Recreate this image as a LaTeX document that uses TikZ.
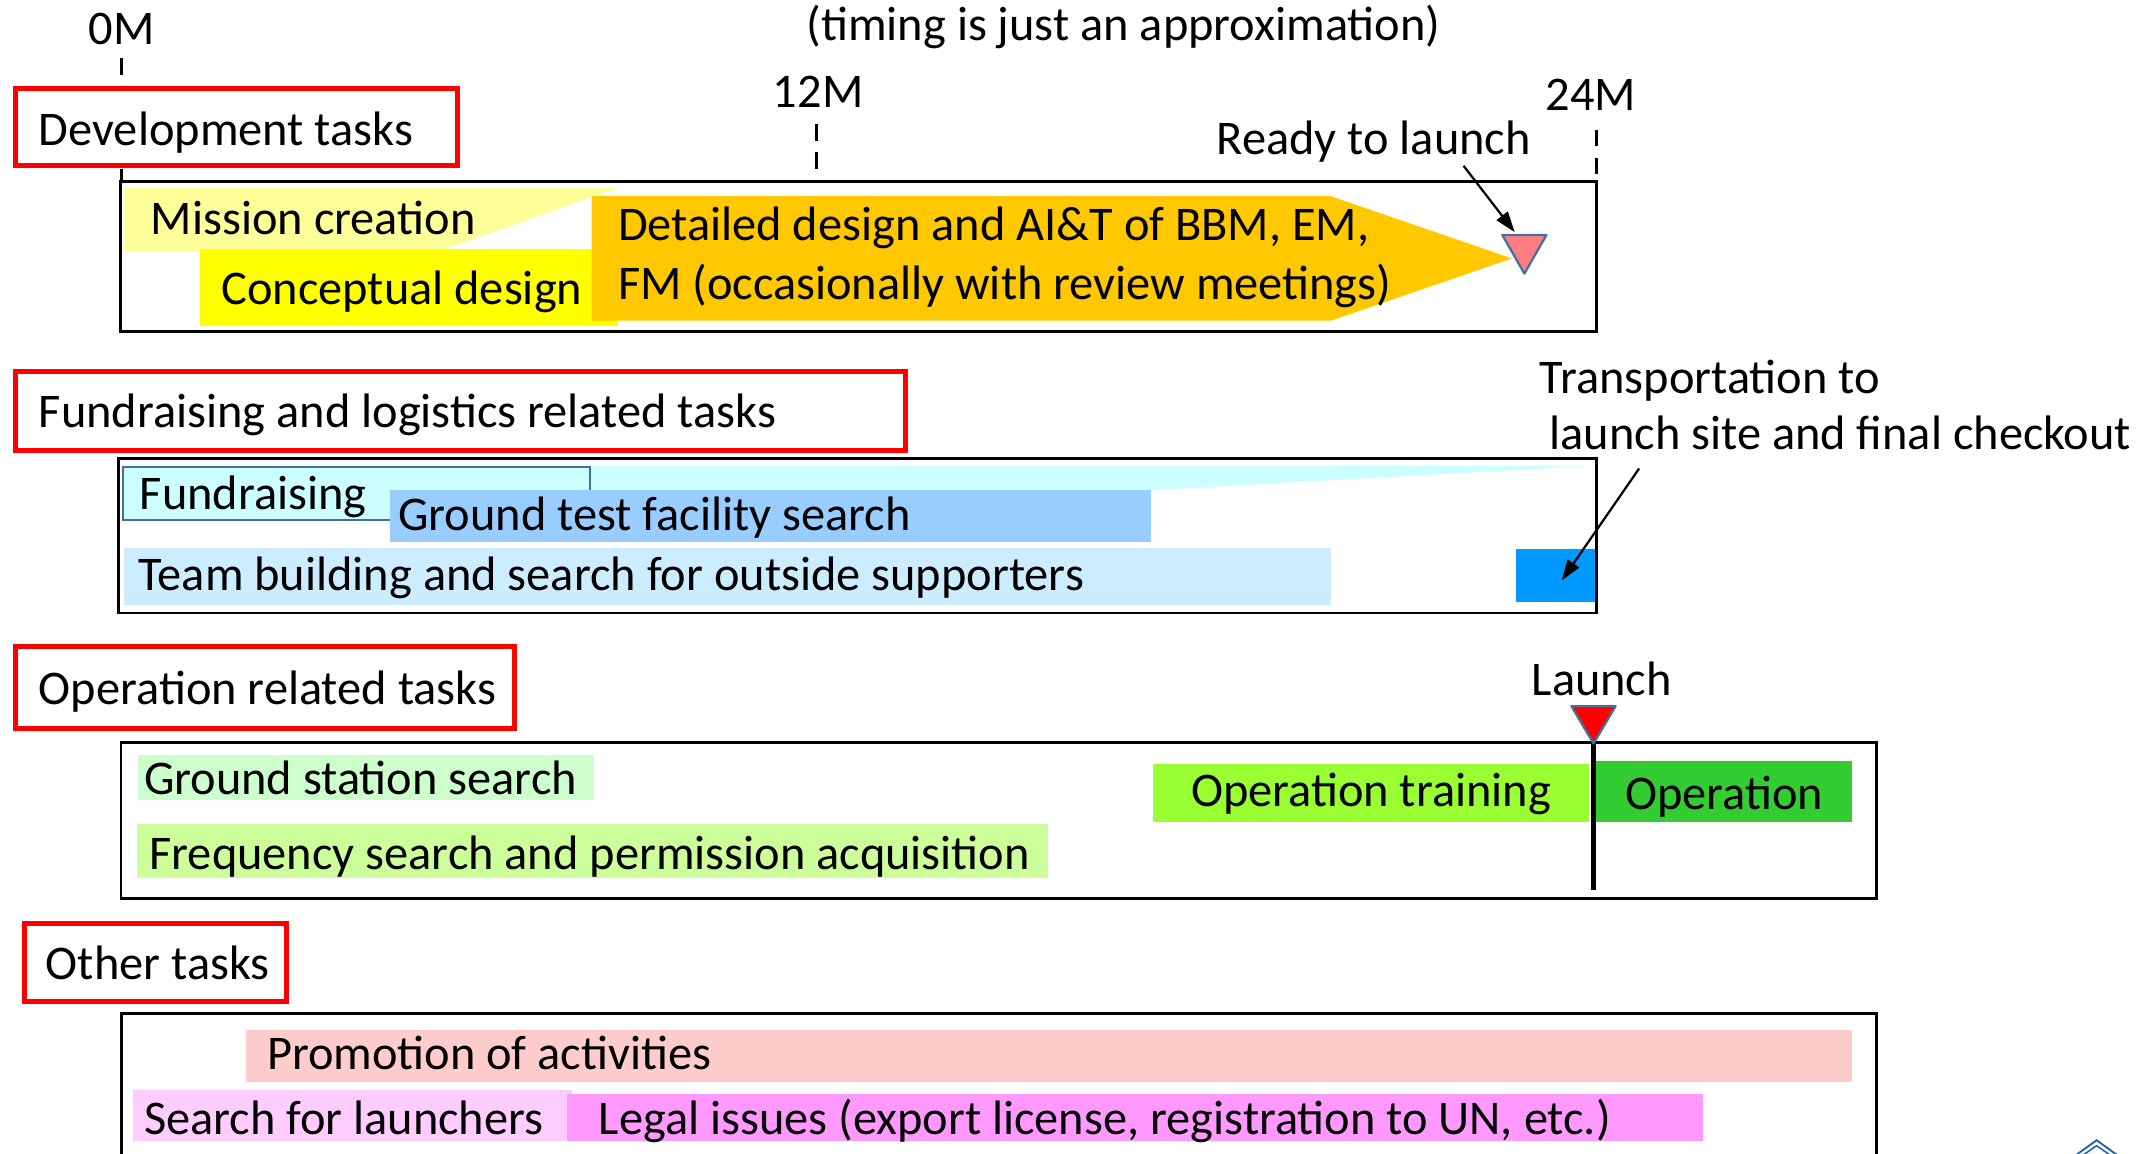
\documentclass[tikz,border=0pt]{standalone}
\usepackage{fontspec}
\setmainfont{Carlito}
\usetikzlibrary{arrows.meta}
\definecolor{mcyellow}{HTML}{FFFF99}
\definecolor{cdyellow}{HTML}{FFFF00}
\definecolor{ddorange}{HTML}{FFC800}
\definecolor{trired}{HTML}{FF7C80}
\definecolor{edgeblue}{HTML}{41719C}
\definecolor{fundcyan}{HTML}{CCFFFF}
\definecolor{gtfblue}{HTML}{99CCFF}
\definecolor{teamblue}{HTML}{CCECFF}
\definecolor{transblue}{HTML}{0099FF}
\definecolor{gsgreen}{HTML}{CCFFCC}
\definecolor{freqgreen}{HTML}{CCFF99}
\definecolor{traingreen}{HTML}{99FF33}
\definecolor{opgreen}{HTML}{33CC33}
\definecolor{promopink}{HTML}{FFCCCC}
\definecolor{searchpink}{HTML}{FFCCFF}
\definecolor{legalpink}{HTML}{FF99FF}
\definecolor{logoblue}{HTML}{1F5FAA}
\begin{document}
\begin{tikzpicture}[x=1pt,y=-1pt,
  txt/.style={inner sep=0pt, font=\fontsize{35}{42}\selectfont},
  redlabel/.style={draw=red, line width=3.6pt, fill=white},
  panel/.style={draw=black, line width=2pt},
  ticksty/.style={line width=2pt, dash pattern=on 12pt off 8pt},
  arr/.style={line width=1.6pt, -{Triangle[length=15pt,width=10pt]}},
  marker/.style={draw=edgeblue, line width=1.6pt, line join=round}
]
\useasboundingbox (0,0) rectangle (1560,834.3);
\clip (0,0) rectangle (1560,834.3);

% time ticks
\draw[ticksty] (88,42) -- (88,131.5);
\draw[ticksty] (591,90) -- (591,122);
\draw[ticksty] (1155,94) -- (1155,126);
\node[txt, anchor=base] (m0) at (88,32) {0M};
\node[txt, anchor=base] (m12) at (592,78) {12M};
\node[txt, anchor=base] (m24) at (1151,80) {24M};
\node[txt, anchor=base] (timing) at (813,29) {(timing is just an approximation)};

% ---------------- Development ----------------
\draw[redlabel] (11,64) rectangle (331,120);
\node[txt, anchor=base west] (devl) at (28,105) {Development tasks};
\draw[panel] (87,131.5) rectangle (1155,240);
\fill[mcyellow] (90,136) -- (447,136) -- (317,182) -- (90,182) -- cycle;
\fill[cdyellow] (145,180) rectangle (447,236);
\fill[ddorange] (428,142) -- (963,142) -- (1094,187) -- (963,232) -- (428,232) -- cycle;
\node[txt, anchor=base west] (mc) at (109,170) {Mission creation};
\node[txt, anchor=base west] (cd) at (160,220) {Conceptual design};
\node[txt, anchor=base west] (dd1) at (447,174) {Detailed design and AI\&T of BBM, EM,};
\node[txt, anchor=base west] (dd2) at (447,217) {FM (occasionally with review meetings)};
\draw[marker, fill=trired] (1087,170) -- (1119,170) -- (1103,198) -- cycle;
\node[txt, anchor=base] (ready) at (994,112) {Ready to launch};
\coordinate (readyfrom) at (1059,120);
\coordinate (readytip) at (1096,168);
\draw[arr] (readyfrom) -- (readytip);

% ---------------- Fundraising ----------------
\draw[redlabel] (11,269) rectangle (655,326);
\node[txt, anchor=base west] (fundl) at (28,309.5) {Fundraising and logistics related tasks};
\draw[panel] (85.5,332) rectangle (1155,443.5);
\fill[fundcyan] (427,337) -- (1153,337) -- (427,377) -- cycle;
\draw[fill=fundcyan, draw=edgeblue, line width=1.4pt] (89,338) rectangle (427,376);
\fill[gtfblue] (282,354.5) rectangle (833,392);
\fill[teamblue] (90,396.5) rectangle (963,438);
\fill[transblue] (1097,397.5) rectangle (1154,435.5);
\node[txt, anchor=base west] (fund) at (101,368.5) {Fundraising};
\node[txt, anchor=base west] (gtf) at (288,384) {Ground test facility search};
\node[txt, anchor=base west] (team) at (100,427.5) {Team building and search for outside supporters};
\node[txt, anchor=base west] (trans1) at (1114,285) {Transportation to};
\node[txt, anchor=base west] (trans2) at (1121,325) {launch site and final checkout};
\coordinate (transfrom) at (1186,339);
\coordinate (transtip) at (1130,420);
\draw[arr] (transfrom) -- (transtip);

% ---------------- Operation ----------------
\draw[redlabel] (11,468) rectangle (372,527);
\node[txt, anchor=base west] (opl) at (28,509.5) {Operation related tasks};
\draw[panel] (87.5,537) rectangle (1358,650);
\fill[gsgreen] (100,546.5) rectangle (430,578.5);
\fill[freqgreen] (99,596.5) rectangle (758,635.5);
\fill[traingreen] (834,552.5) rectangle (1150,595);
\fill[opgreen] (1155,550.5) rectangle (1340,595);
\node[txt, anchor=base west] (gs) at (104,575) {Ground station search};
\node[txt, anchor=base west] (freq) at (108,629) {Frequency search and permission acquisition};
\node[txt, anchor=base] (train) at (992,583.5) {Operation training};
\node[txt, anchor=base] (oper) at (1247.5,586) {Operation};
\draw[line width=3.6pt] (1153,530) -- (1153,644);
\draw[marker, fill=red] (1137,511) -- (1169,511) -- (1153,538) -- cycle;
\node[txt, anchor=base] (launch) at (1159,503) {Launch};

% ---------------- Other ----------------
\draw[redlabel] (18,668.5) rectangle (207,724.5);
\node[txt, anchor=base west] (othl) at (33,709) {Other tasks};
\draw[panel] (88,860) -- (88,733.5) -- (1358,733.5) -- (1358,860);
\fill[promopink] (178,745) rectangle (1340,783);
\fill[searchpink] (96,789) rectangle (414,825.5);
\fill[legalpink] (410,791.5) rectangle (1232,825.5);
\node[txt, anchor=base west] (promo) at (193,774) {Promotion of activities};
\node[txt, anchor=base west] (search) at (104,821) {Search for launchers};
\node[txt, anchor=base west] (legal) at (433,821) {Legal issues (export license, registration to UN, etc.)};

% partial logo in the corner
\draw[logoblue, line width=1.3pt] (1499,838) -- (1517,825) -- (1535,838);
\draw[logoblue, line width=1.1pt] (1504,838) -- (1517,829) -- (1530,838);
\end{tikzpicture}
\end{document}
